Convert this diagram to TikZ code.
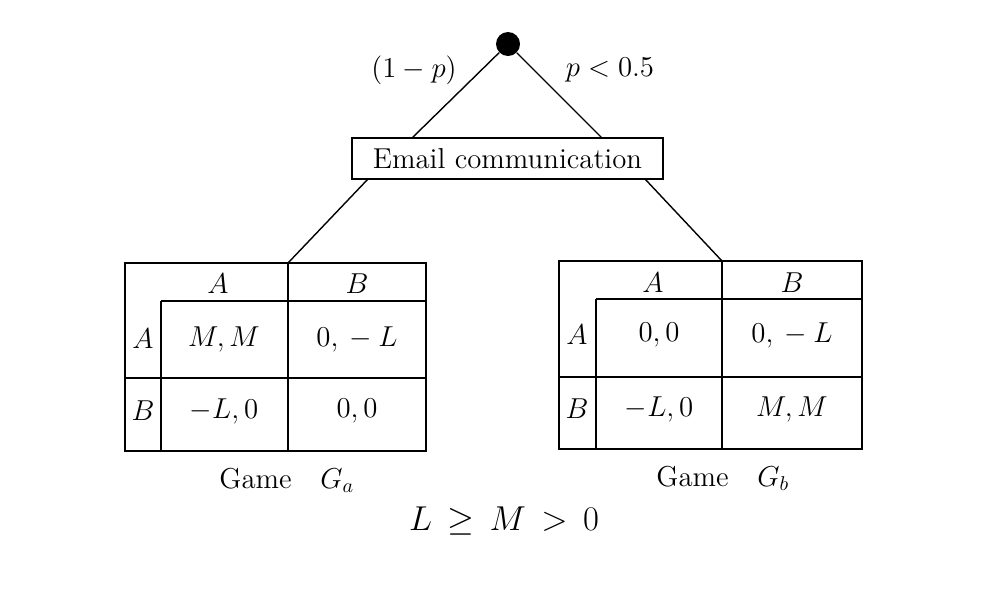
\documentclass[tikz,border=0pt]{standalone}
\begin{document}
\begin{tikzpicture}[x=0.5pt,y=-0.5pt,
  txt/.style={inner sep=0pt,font=\Large},
  conn/.style={line width=0.7pt},
  tab/.style={line width=1pt},
  boxed/.style={draw,line width=1pt,minimum width=155.5pt,minimum height=20.5pt,inner sep=0pt,font=\Large}]
\useasboundingbox (0,0) rectangle (1000,590);
% chance node
\node[circle,fill=black,minimum size=12pt,inner sep=0pt] (dot) at (508,44) {};
\node[txt] (lp) at (414,70) {$(1-p)$};
\node[txt] (rp) at (610,70) {$p<0.5$};
\node[boxed] (email) at (507.5,158.5) {Email communication};
\coordinate (eTL) at (412,138);
\coordinate (eTR) at (602,138);
\coordinate (eBL) at (368,179);
\coordinate (eBR) at (645,179);
\draw[conn] (dot) -- (eTL);
\draw[conn] (dot) -- (eTR);
% left table
\coordinate (ta) at (288,263);
\draw[tab] (125,263) rectangle (426,451);
\draw[tab] (ta) -- (288,451);
\draw[tab] (161,301) -- (426,301);
\draw[tab] (161,301) -- (161,451);
\draw[tab] (125,378) -- (426,378);
\draw[conn] (eBL) -- (ta);
\node[txt] (aHA) at (218,284) {$A$};
\node[txt] (aHB) at (357,284) {$B$};
\node[txt] (aRA) at (143,339) {$A$};
\node[txt] (aRB) at (143,411) {$B$};
\node[txt] (a11) at (224,339) {$M, M$};
\node[txt] (a12) at (357,339) {$0,{}-L$};
\node[txt] (a21) at (224,411) {$-L, 0$};
\node[txt] (a22) at (357,411) {$0, 0$};
\node[txt,anchor=base west] (ga) at (219,488) {Game\quad $G_a$};
% right table
\coordinate (tb) at (722,261);
\draw[tab] (559,261) rectangle (862,449);
\draw[tab] (tb) -- (722,449);
\draw[tab] (596,299) -- (862,299);
\draw[tab] (596,299) -- (596,449);
\draw[tab] (559,377) -- (862,377);
\draw[conn] (eBR) -- (tb);
\node[txt] (bHA) at (653,283) {$A$};
\node[txt] (bHB) at (792,283) {$B$};
\node[txt] (bRA) at (577,335) {$A$};
\node[txt] (bRB) at (577,409) {$B$};
\node[txt] (b11) at (659,335) {$0, 0$};
\node[txt] (b12) at (792,335) {$0,{}-L$};
\node[txt] (b21) at (659,409) {$-L, 0$};
\node[txt] (b22) at (792,409) {$M, M$};
\node[txt,anchor=base west] (gb) at (656,486) {Game\quad $G_b$};
% condition
\node[txt,font=\LARGE] (cond) at (504,521) {$L\,\geq\,M\,>\,0$};
\end{tikzpicture}
\end{document}
